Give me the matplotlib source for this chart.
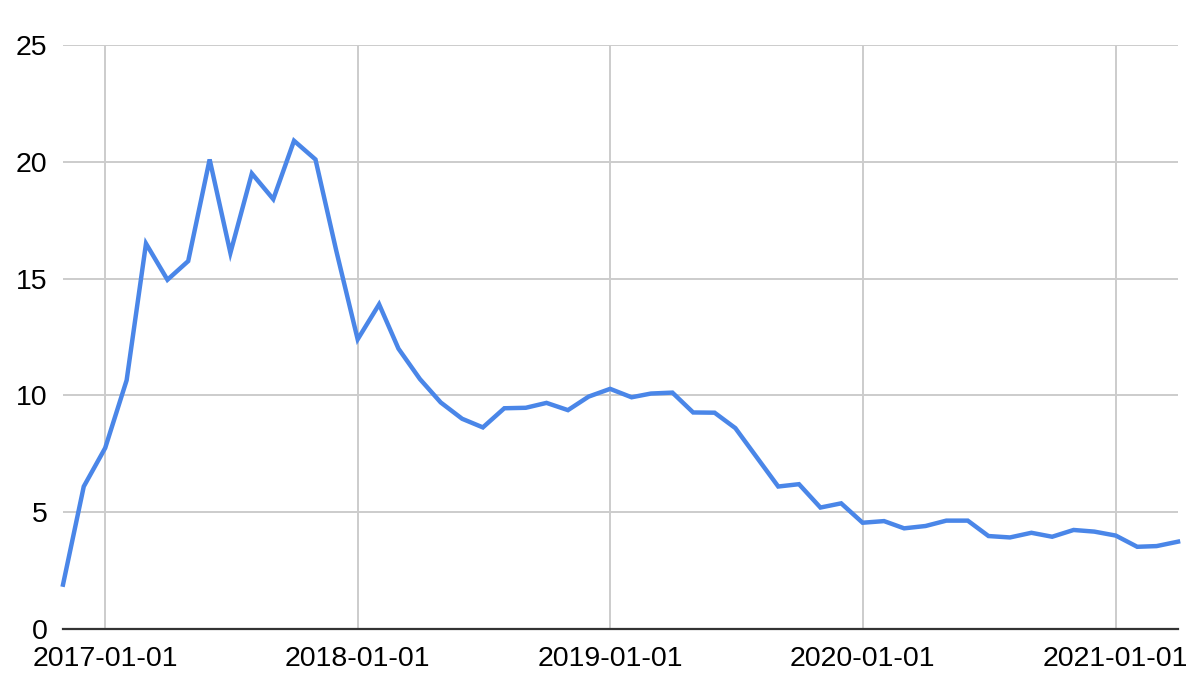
import numpy as np
import pandas as pd
import matplotlib
matplotlib.use("Agg")
import matplotlib.pyplot as plt
import matplotlib.dates as mdates

# monthly values, 2016-11 .. 2021-04
months = pd.date_range("2016-11-01", "2021-04-01", freq="MS")
values = [
    1.9, 6.1,
    7.75, 10.65, 16.5, 14.95, 15.75, 20.1, 16.1, 19.5, 18.4, 20.9, 20.1, 16.2,
    12.4, 13.9, 12.0, 10.7, 9.7, 9.0, 8.63, 9.45, 9.47, 9.68, 9.37, 9.95,
    10.28, 9.92, 10.08, 10.12, 9.27, 9.26, 8.6, 7.35, 6.1, 6.2, 5.2, 5.38,
    4.55, 4.62, 4.31, 4.41, 4.64, 4.64, 3.98, 3.92, 4.12, 3.95, 4.24, 4.17,
    4.0, 3.52, 3.55, 3.74,
]
year_ticks = pd.to_datetime(["2017-01-01", "2018-01-01", "2019-01-01",
                             "2020-01-01", "2021-01-01"])
y_ticks = [0, 5, 10, 15, 20, 25]

plt.rcParams['font.family'] = ['Liberation Sans', 'DejaVu Sans']

fig = plt.figure(figsize=(12, 6.92), dpi=100)
ax = fig.add_axes([0.0525, 0.091, 0.9292, 0.844])

ax.plot(months, values, color="#4a86e8", lw=3.2, solid_joinstyle="miter",
        zorder=3, clip_on=False)

ax.set_xlim(months[0], months[-1])
ax.set_ylim(0, 25)
ax.set_xticks(year_ticks)
ax.xaxis.set_major_formatter(mdates.DateFormatter("%Y-%m-%d"))
ax.set_yticks(y_ticks)

ax.grid(True, color="#cccccc", lw=1.4)
ax.set_axisbelow(True)
for s in ["top", "right", "left"]:
    ax.spines[s].set_visible(False)
ax.spines["bottom"].set_color("#333333")
ax.spines["bottom"].set_linewidth(1.6)
ax.spines["bottom"].set_zorder(4)

ax.tick_params(axis="both", length=0, labelsize=20.5, colors="#000000")
ax.tick_params(axis="y", pad=11)
ax.tick_params(axis="x", pad=12)

fig.savefig("out.png", dpi=100)
